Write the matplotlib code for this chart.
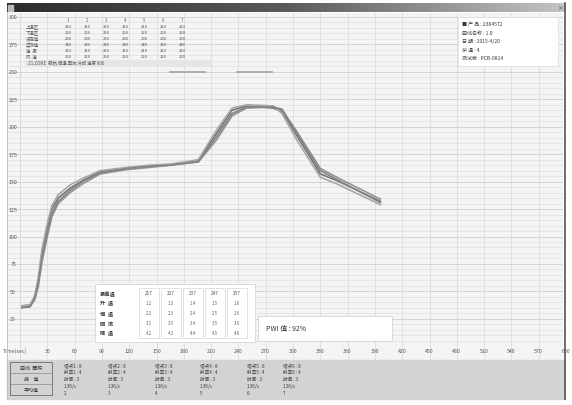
import matplotlib
matplotlib.use('Agg')
import matplotlib.pyplot as plt
from matplotlib.patches import Rectangle
from matplotlib.colors import LinearSegmentedColormap
import numpy as np

plt.rcParams['font.family'] = ['Noto Sans CJK SC', 'DejaVu Sans']

# ---------------- data ----------------
time_s = [2, 11, 16, 20, 24, 30, 35, 42, 55, 69, 88, 118, 143, 165, 196, 216,
          233, 249, 278, 288, 304, 330, 348, 396]
probe_1 = [36, 36, 44, 59, 83, 107, 125, 135, 144, 151, 159, 162, 164, 165, 169,
           194, 215, 219, 217, 214, 192, 157, 151, 132]
probe_2 = [36, 37, 42, 54, 76, 100, 118, 130, 140, 148, 157, 161, 163, 165, 168,
           188, 210, 217, 218, 215, 196, 162, 154, 134]
probe_3 = [37, 38, 46, 62, 88, 112, 128, 138, 147, 153, 160, 163, 165, 166, 170,
           197, 217, 220, 219, 212, 188, 154, 148, 129]
probe_4 = [35, 36, 43, 57, 80, 104, 121, 132, 142, 150, 158, 162, 164, 165, 168,
           191, 212, 218, 218, 216, 194, 160, 152, 131]
probe_colors = ['#747474', '#939393', '#a8a8a8', '#858585']

x_ticks = [30, 60, 90, 120, 150, 180, 210, 240, 270, 300, 330, 360, 390, 420,
           450, 480, 510, 540, 570, 600]
y_ticks = [25, 50, 75, 100, 125, 150, 175, 200, 225, 250, 275, 300]
window_starts = [165, 239]
window_ends = [203, 277]
window_level = 250

legend_lines = ['■ 产 品 : 2384572', '曲线名称 : 1.0', '日 期 : 2015-4/20',
                '炉 温 : 4', '测试板 : PCB-0814']
table_rows = ['上温区', '下温区', '设定值', '实测值', '速  度', '风  速']
table_cols = ['1', '2', '3', '4', '5', '6', '7']

W, H = 572, 406
fig = plt.figure(figsize=(W / 100, H / 100), dpi=100)
fig.patch.set_facecolor('white')


def px_axes(x0, y0, x1, y1, **kw):
    return fig.add_axes([x0 / W, 1 - y1 / H, (x1 - x0) / W, (y1 - y0) / H], **kw)


# ---------------- main plot ----------------
ax = px_axes(7, 14, 563, 361)
ax.set_facecolor('#f4f4f4')
ax.set_xlim(-14.3, 596.7)
ax.set_ylim(-12.5, 303.6)
for v in np.arange(5, 305, 5):
    major = (v % 25 == 0)
    ax.axhline(v, color='#d0d0d0' if major else '#e0e0e0',
               lw=0.6 if major else 0.5, zorder=0)
for t in x_ticks:
    ax.axvline(t, color='#d8d8d8', lw=0.5, zorder=0)
ax.axvline(0, color='#d0d0d0', lw=0.5, zorder=0)
for s in ax.spines.values():
    s.set_visible(False)
ax.set_xticks([]); ax.set_yticks([])

for series, c in zip([probe_1, probe_2, probe_3, probe_4], probe_colors):
    ax.plot(time_s, series, color=c, lw=1.2, zorder=3)

for a, b in zip(window_starts, window_ends):
    ax.plot([a, b], [window_level, window_level], color='#a8a8a8', lw=1.3, zorder=3)

for t in x_ticks:
    ax.text(t, -4, str(t), fontsize=3.8, color='#555555', ha='center', va='center')
ax.text(-6, -4, 'Time(sec)', fontsize=3.8, color='#555555', ha='center', va='center')
for v in y_ticks:
    ax.text(-7.5, v, str(v), fontsize=3.8, color='#555555', ha='center', va='center')

# ---------------- overlay (window chrome, tables) ----------------
fr = px_axes(0, 0, W, H)
fr.set_facecolor('none')
fr.patch.set_alpha(0)
cmap = LinearSegmentedColormap.from_list('tb', ['#2c2c2c', '#5a5a5a', '#c4c4c4'])
fr.imshow(np.linspace(0, 1, 256).reshape(1, -1), extent=(7, 566, 13, 4),
          cmap=cmap, aspect='auto', zorder=1)
fr.set_xlim(0, W); fr.set_ylim(H, 0)
fr.axis('off')
fr.add_patch(Rectangle((8, 5.5), 5, 6, color='#bbbbbb', zorder=2))
fr.text(560, 8.5, '×', fontsize=4, color='#333333', ha='center', va='center', zorder=3)

# bottom grey panel
fr.add_patch(Rectangle((7, 361), 558, 39, color='#d3d3d3', zorder=1))
fr.plot([565, 565], [4, 400], color='#555555', lw=1.2, zorder=2)
fr.plot([7, 7], [13, 400], color='#bcbcbc', lw=0.6, zorder=2)

# top parameter table
for j, c in enumerate(table_cols):
    fr.text(68 + j * 19, 21, c, fontsize=3.2, color='#666666', ha='center', va='center')
for i, r in enumerate(table_rows):
    y = 27 + i * 6
    fr.text(26, y, r, fontsize=3.2, color='#555555', ha='left', va='center')
    for j in range(len(table_cols)):
        fr.text(68 + j * 19, y, '2%d0' % (i % 4 + 1), fontsize=3.0,
                color='#555555', ha='center', va='center')
fr.add_patch(Rectangle((25, 61), 185, 5, color='#e6e6e6', zorder=1))
fr.text(28, 63.5, 'Z1 ZONE  预热 恒温 回流 冷却 速度 800', fontsize=3.2,
        color='#555555', ha='left', va='center', zorder=2)

# legend box
fr.add_patch(Rectangle((458, 18), 100, 49, facecolor='white', edgecolor='#dddddd',
                       lw=0.5, zorder=2))
for i, txt in enumerate(legend_lines):
    fr.text(462, 25 + i * 8.3, txt, fontsize=3.6, color='#3a3a3a', ha='left',
            va='center', zorder=3)

# lower-middle analysis box
fr.add_patch(Rectangle((95, 285), 160, 58, facecolor='white', edgecolor='#cfcfcf',
                       lw=0.5, zorder=2))
left_labels = ['最高温', '升  温', '恒  温', '回  流', '降  温']
for i, t in enumerate(left_labels):
    fr.text(100, 294 + i * 10, t, fontsize=3.8, color='#3a3a3a', ha='left',
            va='center', zorder=3, fontweight='bold')
for j in range(5):
    x = 142 + j * 22
    fr.add_patch(Rectangle((x - 3, 289), 20, 50, facecolor='none', edgecolor='#cccccc',
                           lw=0.4, zorder=3))
    fr.text(x + 7, 294, '2%d7' % (j + 1), fontsize=3.4, color='#555555', ha='center',
            va='center', zorder=3)
    for i in range(1, 5):
        fr.text(x + 7, 294 + i * 10, '%d.%d' % (i, j + 2), fontsize=3.2,
                color='#666666', ha='center', va='center', zorder=3)
fr.add_patch(Rectangle((258, 317), 134, 25, facecolor='white', edgecolor='#cfcfcf',
                       lw=0.5, zorder=2))
fr.text(266, 329, 'PWI 值 : 92%', fontsize=5, color='#333333', ha='left',
        va='center', zorder=3)

# bottom-panel table
fr.add_patch(Rectangle((10, 363), 42, 33, facecolor='none', edgecolor='#555555',
                       lw=0.5, zorder=3))
fr.plot([10, 52], [374, 374], color='#777777', lw=0.4, zorder=3)
fr.plot([10, 52], [385, 385], color='#777777', lw=0.4, zorder=3)
for i, t in enumerate(['曲线  面积', '峰    值', '平均值']):
    fr.text(31, 368.5 + i * 11, t, fontsize=3.6, color='#333333', ha='center',
            va='center', zorder=4)
group_x = [64, 108, 155, 200, 247, 283]
for g, gx in enumerate(group_x):
    lines = ['熔点%d : 8' % (g + 1), '斜率%d : 4' % (g + 1), '时间 : 3', '1.36/s', '%d' % (g + 2)]
    for i, t in enumerate(lines):
        fr.text(gx, 366 + i * 7, t, fontsize=3.3, color='#3a3a3a', ha='left',
                va='center', zorder=4)

fig.savefig('out.png', dpi=100)
